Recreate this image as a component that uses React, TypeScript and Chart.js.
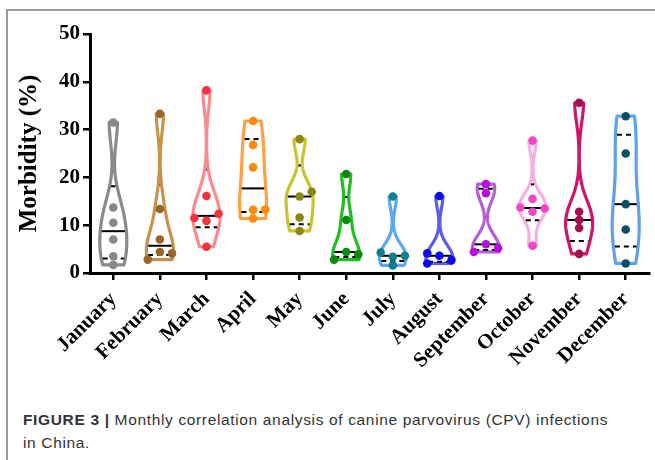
import React, { useEffect, useRef } from "react";
import { Chart, registerables } from "chart.js";

Chart.register(...registerables);

const monthLabels = ["January", "February", "March", "April", "May", "June", "July", "August", "September", "October", "November", "December"];
const january = [31.5, 13.7, 10.5, 7.0, 3.5, 1.7];
const february = [33.3, 13.4, 7.0, 4.4, 4.1, 2.8];
const march = [38.2, 16.1, 10.9, 12.4, 11.5, 5.5];
const april = [31.8, 26.8, 22.1, 13.2, 13.3, 11.4];
const may = [28.0, 16.0, 17.0, 11.6, 8.8];
const june = [20.7, 11.1, 4.4, 3.9, 2.8];
const july = [16.0, 3.4, 3.6, 4.3, 1.6];
const august = [16.1, 3.6, 2.7, 4.1, 2.0];
const september = [18.6, 16.7, 6.0, 5.2, 4.4];
const october = [27.7, 12.8, 13.5, 13.7, 15.5, 5.7];
const november = [35.6, 12.8, 11.1, 9.4, 4.0];
const december = [32.8, 25.0, 14.4, 9.1, 2.0];
const yTickValues = [0, 10, 20, 30, 40, 50];

const seriesValues = [january, february, march, april, may, june, july, august, september, october, november, december];

// styling: outline colours, dot colours and kernel smoothing per violin
const violinColors = ["#8a8a8a", "#c8924c", "#fb8a8c", "#ffa043", "#c9c62a", "#1fbf1f", "#5ba8f2", "#5c5cf0", "#b45ed8", "#f7aee3", "#d0146a", "#5ca2f0"];
const dotColors = ["#888888", "#9a6526", "#f2333d", "#ff8a0a", "#8c8714", "#0d8a0d", "#10808c", "#0a0aee", "#b80ee2", "#f245c8", "#a3104f", "#0e5062"];
const smoothing = [4.5, 4.0, 4.0, 6.0, 3.0, 3.0, 2.5, 2.5, 2.6, 2.5, 4.0, 6.5];

function quantile(sorted: number[], p: number) {
  const n = sorted.length;
  const pos = (n + 1) * p;
  const lo = Math.floor(pos);
  const frac = pos - lo;
  if (lo < 1) return sorted[0];
  if (lo >= n) return sorted[n - 1];
  return sorted[lo - 1] + frac * (sorted[lo] - sorted[lo - 1]);
}

function density(vals: number[], h: number, y: number) {
  let s = 0;
  for (const v of vals) s += Math.exp(-0.5 * ((y - v) / h) ** 2);
  return s;
}

const violinPlugin = {
  id: "violins",
  afterDatasetsUpdate(chart: any) {
    const xs = chart.scales.x;
    const ys = chart.scales.y;
    const step = xs.getPixelForValue(1) - xs.getPixelForValue(0);
    const d = step * 0.26;
    const thr = 7.9;
    seriesValues.forEach((vals, i) => {
      const meta = chart.getDatasetMeta(i);
      const placed: { x: number; y: number }[] = [];
      const cx = xs.getPixelForValue(i);
      vals.forEach((v, j) => {
        const cy = ys.getPixelForValue(v);
        for (const k of [0, 1, -1, 2, -2]) {
          const x = cx + k * d;
          if (placed.every((p) => Math.hypot(p.x - x, p.y - cy) >= thr)) {
            placed.push({ x, y: cy });
            if (meta.data[j]) meta.data[j].x = x;
            break;
          }
        }
      });
    });
  },
  beforeDatasetsDraw(chart: any) {
    const ctx = chart.ctx;
    const xs = chart.scales.x;
    const ys = chart.scales.y;
    const step = xs.getPixelForValue(1) - xs.getPixelForValue(0);
    const maxHalf = step * 0.29;
    seriesValues.forEach((vals, i) => {
      const cx = xs.getPixelForValue(i);
      const h = smoothing[i];
      const lo = Math.min(...vals);
      const hi = Math.max(...vals);
      const N = 120;
      const samples: { v: number; d: number }[] = [];
      for (let k = 0; k <= N; k++) {
        const v = lo + ((hi - lo) * k) / N;
        samples.push({ v, d: density(vals, h, v) });
      }
      const maxD = Math.max(...samples.map((s) => s.d));
      const halfAt = (v: number) => (maxHalf * density(vals, h, v)) / maxD;
      ctx.save();
      ctx.beginPath();
      samples.forEach((s, k) => {
        const x = cx + (maxHalf * s.d) / maxD;
        const y = ys.getPixelForValue(s.v);
        if (k === 0) ctx.moveTo(x, y);
        else ctx.lineTo(x, y);
      });
      for (let k = samples.length - 1; k >= 0; k--) {
        const s = samples[k];
        ctx.lineTo(cx - (maxHalf * s.d) / maxD, ys.getPixelForValue(s.v));
      }
      ctx.closePath();
      ctx.lineWidth = 3.2;
      ctx.lineJoin = "round";
      ctx.strokeStyle = violinColors[i];
      ctx.stroke();

      const sorted = [...vals].sort((a, b) => a - b);
      const lines = [
        { v: quantile(sorted, 0.5), dash: [] as number[] },
        { v: quantile(sorted, 0.25), dash: [5, 4] },
        { v: quantile(sorted, 0.75), dash: [5, 4] },
      ];
      ctx.strokeStyle = "#000";
      ctx.lineWidth = 2;
      lines.forEach((l) => {
        const w = Math.max(0, halfAt(l.v) - 1.5);
        const y = ys.getPixelForValue(l.v);
        ctx.setLineDash(l.dash);
        ctx.beginPath();
        ctx.moveTo(cx - w, y);
        ctx.lineTo(cx + w, y);
        ctx.stroke();
      });
      ctx.setLineDash([]);
      ctx.restore();
    });
  },
};

export default function App() {
  const ref = useRef<HTMLCanvasElement | null>(null);
  useEffect(() => {
    if (!ref.current) return;
    const chart = new Chart(ref.current, {
      type: "scatter",
      data: {
        datasets: seriesValues.map((vals, i) => ({
          label: monthLabels[i],
          data: vals.map((v) => ({ x: i, y: v })),
          backgroundColor: dotColors[i],
          borderColor: dotColors[i],
          borderWidth: 0,
          pointRadius: 4.3,
        })),
      },
      options: {
        animation: false,
        responsive: false,
        devicePixelRatio: 1,
        layout: { padding: { top: 34, right: 6, left: 0, bottom: 0 } },
        plugins: { legend: { display: false }, tooltip: { enabled: false } },
        scales: {
          x: {
            type: "linear",
            min: -0.5,
            max: 11.5,
            afterBuildTicks: (axis: any) => {
              axis.ticks = monthLabels.map((_, i) => ({ value: i }));
            },
            afterFit: (scale: any) => {
              scale.height = 400 - 273;
            },
            ticks: {
              autoSkip: false,
              minRotation: 45,
              maxRotation: 45,
              padding: 7,
              color: "#000",
              font: { family: "'Liberation Serif', 'Times New Roman', serif", size: 21, weight: "bold" },
              callback: (v: any) => monthLabels[v] ?? "",
            },
            grid: { drawOnChartArea: false, drawTicks: true, tickLength: 7, color: "#000", lineWidth: 2.5 },
            border: { display: true, color: "#000", width: 3 },
          },
          y: {
            min: 0,
            max: 50,
            afterBuildTicks: (axis: any) => {
              axis.ticks = yTickValues.map((v) => ({ value: v }));
            },
            afterFit: (scale: any) => {
              scale.width = 90;
            },
            ticks: {
              padding: 3,
              color: "#000",
              font: { family: "'Liberation Serif', 'Times New Roman', serif", size: 21, weight: "bold" },
            },
            grid: { drawOnChartArea: false, drawTicks: true, tickLength: 7, color: "#000", lineWidth: 2.5 },
            border: { display: true, color: "#000", width: 3 },
            title: {
              display: true,
              text: "Morbidity (%)",
              color: "#000",
              padding: { top: 15, bottom: 0 },
              font: { family: "'Liberation Serif', 'Times New Roman', serif", size: 25, weight: "bold" },
            },
          },
        },
      },
      plugins: [violinPlugin],
    });
    return () => chart.destroy();
  }, []);

  return (
    <div style={{ position: "fixed", left: 0, top: 0, width: 655, height: 460, background: "#fff", overflow: "hidden" }}>
      <div
        style={{
          position: "absolute",
          left: 6,
          top: 9,
          width: 700,
          height: 500,
          borderLeft: "2px solid #9a9a9a",
          borderTop: "2px solid #9a9a9a",
        }}
      />
      <canvas ref={ref} width={655} height={400} style={{ position: "absolute", left: 0, top: 0, width: 655, height: 400 }} />
      <div
        style={{
          position: "absolute",
          left: 23,
          top: 408,
          fontFamily: "'Liberation Sans', Arial, sans-serif",
          fontSize: 15.5,
          letterSpacing: "0.65px",
          lineHeight: "23px",
          color: "#333",
          whiteSpace: "nowrap",
        }}
      >
        <b>FIGURE 3 |</b> Monthly correlation analysis of canine parvovirus (CPV) infections
        <br />
        in China.
      </div>
    </div>
  );
}
